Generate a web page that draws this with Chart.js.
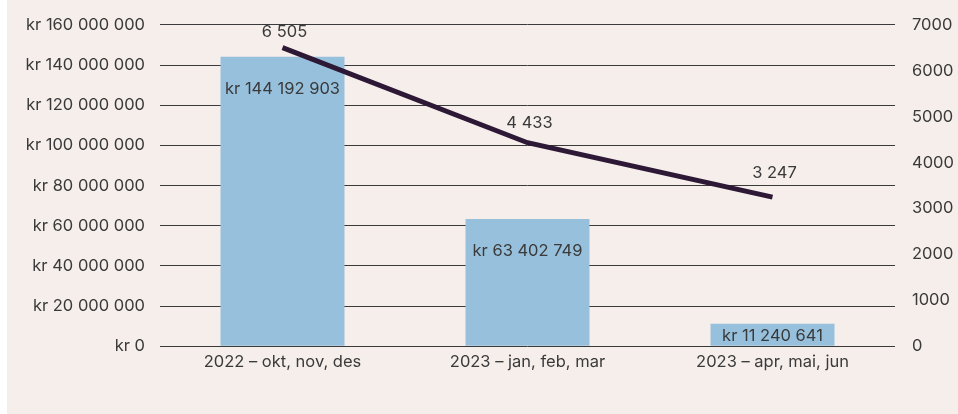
<!DOCTYPE html>
<html>
<head>
<meta charset="utf-8">
<script src="https://cdn.jsdelivr.net/npm/chart.js@4.4.1/dist/chart.umd.min.js"></script>
<style>
  html, body { margin: 0; padding: 0; background: #ffffff; }
  #wrap { position: absolute; left: 7px; top: 0; width: 951px; height: 414px; background: #f5eeeb; }
  canvas { display: block; }
</style>
</head>
<body>
<div id="wrap"><canvas id="chart" width="951" height="414"></canvas></div>
<script>
const categories = ["2022 – okt, nov, des", "2023 – jan, feb, mar", "2023 – apr, mai, jun"];
const amounts = [144192903, 63402749, 11240641];
const counts = [6505, 4433, 3247];

const TEXT = "#3a3a3a";
const FONT = "Inter, 'Noto Sans', sans-serif";
const SIZE = 16.5;
// how far each line label sits above its point
const lineLabelLift = [16, 20, 24];

// space as thousands separator, like the original
const spaced = n => String(Math.round(n)).replace(/\B(?=(\d{3})+(?!\d))/g, " ");

// value labels on bars and line points
const valueLabels = {
  id: "valueLabels",
  afterDatasetsDraw(chart) {
    const ctx = chart.ctx;
    ctx.save();
    ctx.font = SIZE + "px " + FONT;
    ctx.fillStyle = TEXT;
    ctx.textAlign = "center";
    ctx.textBaseline = "middle";

    chart.getDatasetMeta(0).data.forEach((bar, i) => {
      const top = bar.y, bottom = bar.base;
      const y = Math.min(top + 32, (top + bottom) / 2 + 1);
      ctx.fillText("kr " + spaced(amounts[i]), bar.x, y);
    });

    chart.getDatasetMeta(1).data.forEach((pt, i) => {
      ctx.fillText(spaced(counts[i]), pt.x + 2, pt.y - lineLabelLift[i]);
    });
    ctx.restore();
  }
};

new Chart(document.getElementById("chart"), {
  data: {
    labels: categories,
    datasets: [
      {
        type: "bar",
        data: amounts,
        backgroundColor: "#97c0dd",
        barPercentage: 0.506,
        categoryPercentage: 1,
        yAxisID: "y",
        order: 2
      },
      {
        type: "line",
        data: counts,
        borderColor: "#2d1836",
        borderWidth: 5,
        pointRadius: 0,
        tension: 0,
        yAxisID: "y1",
        order: 1
      }
    ]
  },
  options: {
    responsive: false,
    animation: false,
    layout: { padding: { top: 16, bottom: 36, left: 0, right: 0 } },
    plugins: {
      legend: { display: false },
      tooltip: { enabled: false }
    },
    scales: {
      x: {
        grid: { display: false, drawTicks: false },
        border: { display: false },
        ticks: { color: TEXT, font: { family: FONT, size: SIZE }, padding: 6, maxRotation: 0 }
      },
      y: {
        position: "left",
        min: 0, max: 160000000,
        afterFit: s => { s.width = 153; },
        grid: { color: "#3a3a3a", lineWidth: 1, drawTicks: false },
        border: { display: false },
        ticks: {
          stepSize: 20000000,
          padding: 15,
          color: TEXT,
          font: { family: FONT, size: SIZE },
          callback: v => "kr " + spaced(v)
        }
      },
      y1: {
        position: "right",
        min: 0, max: 7000,
        afterFit: s => { s.width = 63; },
        grid: { display: false },
        border: { display: false },
        ticks: {
          stepSize: 1000,
          padding: 9,
          color: TEXT,
          font: { family: FONT, size: SIZE },
          callback: v => String(v)
        }
      }
    }
  },
  plugins: [valueLabels]
});
</script>
</body>
</html>
